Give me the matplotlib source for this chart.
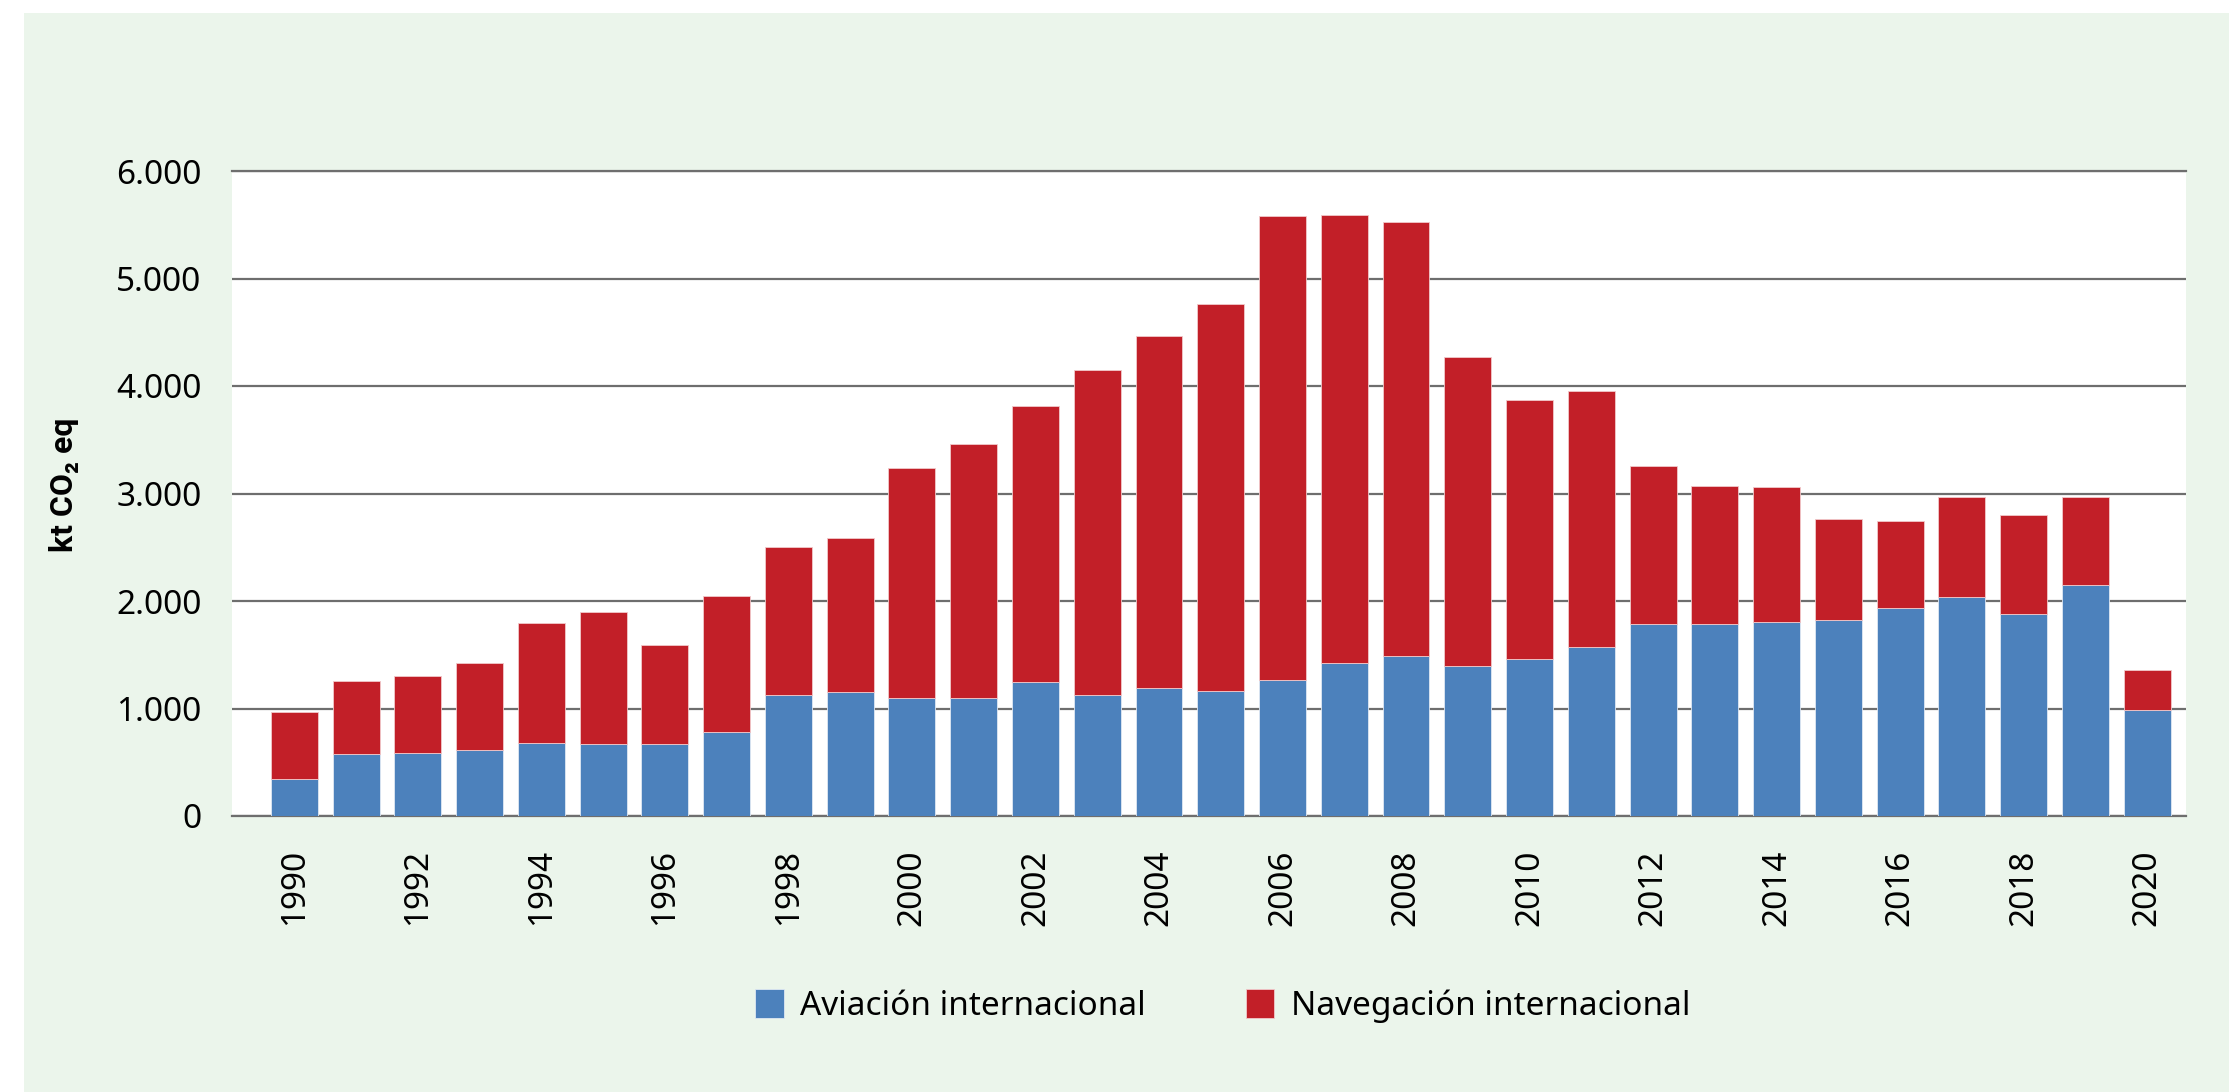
import numpy as np
import matplotlib
matplotlib.use("Agg")
import matplotlib.pyplot as plt
from matplotlib.patches import Rectangle
from matplotlib.ticker import FuncFormatter

plt.rcParams['font.family'] = ['Noto Sans', 'DejaVu Sans']

# kt CO2 eq por año
years = list(range(1990, 2021))
aviacion = [345, 577, 590, 615, 681, 669, 669, 781, 1121, 1154,
            1100, 1100, 1250, 1121, 1192, 1167, 1267, 1424, 1491, 1391,
            1458, 1570, 1790, 1790, 1806, 1823, 1935, 2035, 1881, 2147,
            988]
navegacion = [627, 677, 710, 809, 1117, 1229, 926, 1262, 1383, 1429,
              2139, 2363, 2562, 3032, 3276, 3592, 4314, 4166, 4032, 2882,
              2412, 2379, 1462, 1279, 1255, 943, 810, 930, 918, 818,
              370]
labels = ['Aviación internacional', 'Navegación internacional']
colors = ['#4C81BC', '#C21F28']

W, H = 2229, 1092
fig = plt.figure(figsize=(W / 100, H / 100), dpi=100)
fig.patch.set_facecolor('white')
# fondo verde claro
fig.patches.append(Rectangle((24 / W, 0), 1, 1 - 13 / H, transform=fig.transFigure,
                             facecolor='#EBF5EB', edgecolor='none', zorder=-10))

ax = fig.add_axes([232 / W, 1 - 816 / H, (2186 - 232) / W, (816 - 171) / H])
ax.set_facecolor('white')

x = np.arange(len(years))
ax.bar(x, aviacion, width=0.76, color=colors[0], edgecolor='#dfe8f3',
       linewidth=0.6, label=labels[0], zorder=3)
ax.bar(x, navegacion, width=0.76, bottom=aviacion, color=colors[1],
       edgecolor='#f1c9cb', linewidth=0.6, label=labels[1], zorder=3)

ax.set_xlim(-1.01, 30.63)
ax.set_ylim(0, 6000)
ax.set_yticks(np.arange(0, 6001, 1000))
ax.yaxis.set_major_formatter(FuncFormatter(lambda v, p: f"{int(v):,}".replace(',', '.')))
ax.grid(axis='y', color='#6E6E6E', linewidth=1.6, zorder=1)
ax.set_axisbelow(True)

for s in ['left', 'right']:
    ax.spines[s].set_visible(False)
for s in ['top', 'bottom']:
    ax.spines[s].set_color('#6E6E6E')
    ax.spines[s].set_linewidth(1.6)

ax.set_xticks(x[::2])
ax.set_xticklabels([str(y) for y in years[::2]], rotation=90)
ax.tick_params(axis='both', length=0, labelsize=24)
ax.tick_params(axis='y', pad=22)
ax.tick_params(axis='x', pad=24)

fig.text(64 / W, 1 - 485 / H, 'kt CO₂ eq', rotation=90, ha='center', va='center',
         fontsize=23, fontweight='bold', family=['Roboto', 'DejaVu Sans'])

fig.legend(loc='center', bbox_to_anchor=(1223 / W, 1 - 1006 / H), ncol=2,
           frameon=False, fontsize=24, handlelength=0.85, handleheight=0.95,
           handletextpad=0.5, columnspacing=3.0)

fig.savefig('out.png', dpi=100, facecolor=fig.get_facecolor())
